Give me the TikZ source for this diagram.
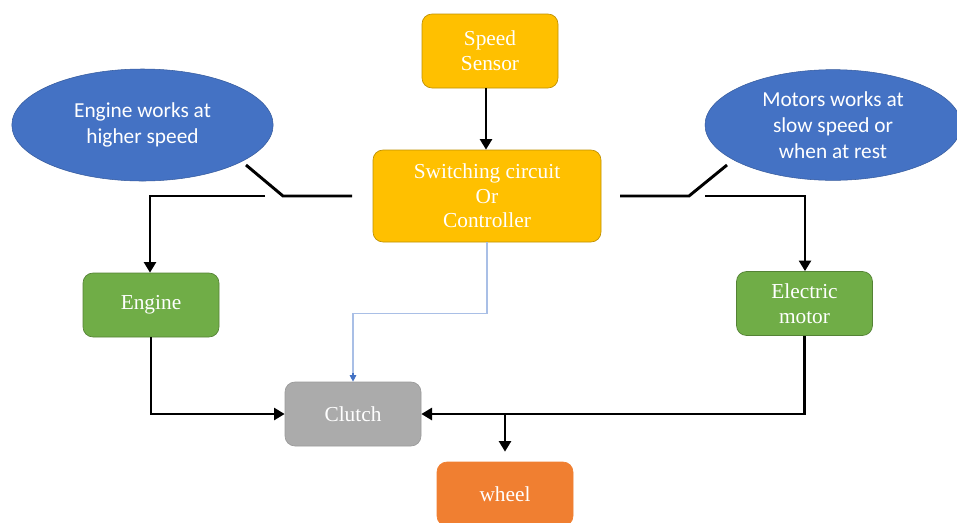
\documentclass[tikz,border=0pt]{standalone}
\usepackage{fontspec}
\setmainfont{Liberation Serif}
\newfontfamily\calib{Carlito}
\usetikzlibrary{shapes.geometric,arrows.meta,calc}
\definecolor{gold}{HTML}{FFC000}
\definecolor{bluee}{HTML}{4472C4}
\definecolor{greenb}{HTML}{70AD47}
\definecolor{grayb}{HTML}{ABABAB}
\definecolor{orangeb}{HTML}{F07F31}
\definecolor{lblue}{HTML}{A9BFE6}
\tikzset{
  box/.style={draw=#1!75!black, line width=0.5pt, fill=#1, rounded corners=7.5pt, minimum width=102pt, text=white, font=\fontsize{16}{18.5}\selectfont, align=center, inner sep=0pt},
  oval/.style={ellipse, fill=bluee, draw=bluee!80!black, line width=0.4pt, text=white, font=\calib\fontsize{16}{19.5}\selectfont, align=center, inner sep=0pt},
  conn/.style={line width=2.2pt, -{Triangle[length=8pt,width=9pt]}},
  wire/.style={line width=2.2pt},
}
\begin{document}
\begin{tikzpicture}[x=0.75pt,y=-0.75pt]
\useasboundingbox (0,0) rectangle (957,522);
% boxes
\node[box=gold, minimum height=55.5pt] (sensor) at (490,51) {Speed\\Sensor};
\node[box=gold, minimum width=171pt, minimum height=69pt] (ctrl) at (487,196) {Switching circuit\\Or\\Controller};
\node[box=greenb, minimum height=48pt] (engine) at (151,305) {Engine};
\node[box=greenb, minimum height=48pt] (motor) at (804.5,303.5) {Electric\\motor};
\node[box=grayb, draw=grayb!90!black, minimum height=48pt] (clutch) at (353,414) {Clutch};
\node[box=orangeb, draw=orangeb, minimum height=48pt] (wheel) at (505,494) {wheel};
% ellipses
\node[oval, minimum width=196pt, minimum height=84pt] (eov) at (142.5,125) {Engine works at\\higher speed};
\node[oval, minimum width=192pt, minimum height=83pt] (mov) at (833,125) {Motors works at\\slow speed or\\when at rest};
% coordinates
\coordinate (s1) at (486,88);
\coordinate (l1) at (352,196);
\coordinate (l2) at (283,196);
\coordinate (l3) at (246,165);
\coordinate (l4) at (265,196);
\coordinate (lc) at (150,196);
\coordinate (r1) at (620,196);
\coordinate (r2) at (689,196);
\coordinate (r3) at (727,165);
\coordinate (r4) at (705,196);
\coordinate (rc) at (805,196);
\coordinate (j) at (505,413);
% connectors
\draw[conn] (s1) -- (s1 |- ctrl.north);
\draw[wire] (l1) -- (l2) -- (l3);
\draw[conn] (l4) -- (lc) -- (lc |- engine.north);
\draw[wire] (r1) -- (r2) -- (r3);
\draw[conn] (r4) -- (rc) -- (rc |- motor.north);
\draw[lblue, line width=1pt] (ctrl.south) -- ++(0,71) -| ($(clutch.north)+(0,-8)$);
\draw[bluee, -{Triangle[length=5pt,width=5pt]}, line width=0.8pt] ($(clutch.north)+(0,-9)$) -- (clutch.north);
\draw[conn] (engine.south) |- (clutch.west);
\draw[conn] (motor.south) |- (clutch.east);
\draw[conn] (j) -- ($(wheel.north)+(0,-10)$);
\end{tikzpicture}
\end{document}
